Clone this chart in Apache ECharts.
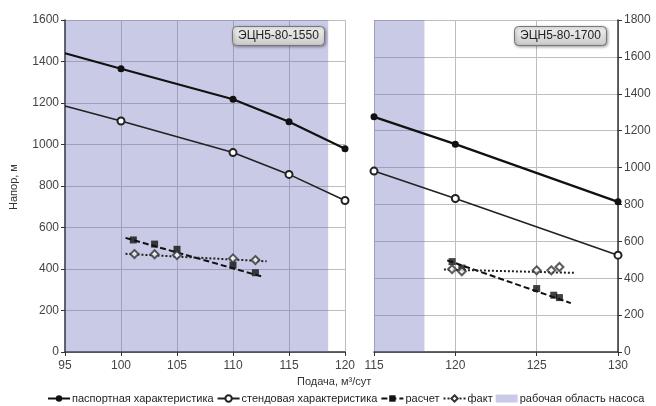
<!DOCTYPE html>
<html><head><meta charset="utf-8">
<script src="https://cdn.jsdelivr.net/npm/echarts@6/dist/echarts.min.js"></script>
<style>html,body{margin:0;padding:0;background:#fff}#c{width:656px;height:406px}</style>
</head><body><div id="c"></div>
<script>
// ---- data ----
var leftPassport = [[95,1440],[100,1365],[110,1218],[115,1110],[120,979]];
var leftStand    = [[95,1186],[100,1113],[110,961],[115,856],[120,730]];
var leftCalcPts  = [[101.1,540],[103,520],[105,495],[110,419],[112,382]];
var leftCalcTrend= [[100.4,550],[112.7,362]];
var leftFactPts  = [[101.2,472],[103,471],[105,467],[110,451],[112,443]];
var leftFactTrend= [[100.4,473],[113,437]];
var leftWork     = [95,118.5];

var rightPassport = [[115,1275],[120,1127],[130,814]];
var rightStand    = [[115,981],[120,832],[130,525]];
var rightCalcPts  = [[119.8,490],[120.4,455],[125,344],[126.05,308],[126.4,295]];
var rightCalcTrend= [[119.5,497],[127.1,265]];
var rightFactPts  = [[119.8,449],[120.4,438],[125,443],[125.9,443],[126.4,461]];
var rightFactTrend= [[119.3,447],[127.3,429]];
var rightWork     = [115,118.1];

var leftXTicks = {min:95,max:120,interval:5};
var rightXTicks = {min:115,max:130,interval:5};
var leftYTicks = {min:0,max:1600,interval:200};
var rightYTicks = {min:0,max:1800,interval:200};

var names = ['паспортная характеристика','стендовая характеристика','расчет','факт','рабочая область насоса'];
var titles = ['ЭЦН5-80-1550','ЭЦН5-80-1700'];

// ---- chart ----
var FONT = 'Liberation Sans, Arial, sans-serif';
var chart = echarts.init(document.getElementById('c'));
function plain(v){ return String(v); }
function firstNone(arr){ return arr.map(function(p,i){ return i===0 ? {value:p, symbol:'none'} : p; }); }
function mkX(g, t){ return {type:'value', gridIndex:g, min:t.min, max:t.max, interval:t.interval,
  axisLine:{show:true,onZero:false,lineStyle:{color:'#333',width:1.5}},
  axisTick:{show:true,length:4,lineStyle:{color:'#333'}},
  axisLabel:{color:'#444',fontSize:12,fontFamily:FONT,margin:8,formatter:plain},
  splitLine:{show:true,lineStyle:{color:'#bdbdbd',width:1}}}; }
function mkY(g, t, pos){ return {type:'value', gridIndex:g, min:t.min, max:t.max, interval:t.interval, position:pos,
  axisLine:{show:true,lineStyle:{color:'#333',width:1.5}},
  axisTick:{show:true,length:4,lineStyle:{color:'#333'}},
  axisLabel:{color:'#444',fontSize:12,fontFamily:FONT,margin:6,formatter:plain},
  splitLine:{show:true,lineStyle:{color:'#bdbdbd',width:1}}}; }
var shade = 'rgba(101,104,181,0.35)';
function series(g, pass, stand, calcPts, calcTrend, factPts, factTrend, work){
  return [
    {name:names[4], type:'line', xAxisIndex:g, yAxisIndex:g, data:[], symbol:'none', z:1,
     itemStyle:{color:'#c9cae5'}, lineStyle:{color:'#c9cae5'},
     markArea:{silent:true, itemStyle:{color:shade}, data:[[{xAxis:work[0]},{xAxis:work[1]}]]}},
    {name:names[0], type:'line', xAxisIndex:g, yAxisIndex:g, data: g===0?firstNone(pass):pass, symbol:'circle', symbolSize:7, z:5,
     itemStyle:{color:'#111'}, lineStyle:{color:'#111',width:2.2}},
    {name:names[1], type:'line', xAxisIndex:g, yAxisIndex:g, data: g===0?firstNone(stand):stand, symbol:'emptyCircle', symbolSize:7, z:5,
     itemStyle:{color:'#222',borderWidth:1.2}, lineStyle:{color:'#222',width:1.6}},
    {name:names[2], type:'line', xAxisIndex:g, yAxisIndex:g, data: calcTrend.map(function(p){return {value:p,symbol:'none'};}), symbol:'rect', symbolSize:7, z:5,
     itemStyle:{color:'#111'}, lineStyle:{color:'#111',width:2,type:[6,3]}},
    {name:names[2], type:'scatter', xAxisIndex:g, yAxisIndex:g, data: calcPts, symbol:'rect', symbolSize:7, z:6,
     itemStyle:{color:'#111'}},
    {name:names[3], type:'line', xAxisIndex:g, yAxisIndex:g, data: factTrend.map(function(p){return {value:p,symbol:'none'};}), symbol:'emptyDiamond', symbolSize:8, z:5,
     itemStyle:{color:'#333',borderWidth:1.3}, lineStyle:{color:'#222',width:2,type:[2,2]}},
    {name:names[3], type:'scatter', xAxisIndex:g, yAxisIndex:g, data: factPts, symbol:'emptyDiamond', symbolSize:8, z:6,
     itemStyle:{color:'#333',borderWidth:1.3}}
  ];
}
var boxBg = new echarts.graphic.LinearGradient(0,0,0,1,[{offset:0,color:'#f4f4f4'},{offset:1,color:'#c9c9c9'}]);
function mkTitle(text, left){ return {text:text, left:left, top:26, padding:[4,6],
  textStyle:{fontSize:12,fontWeight:'normal',color:'#222',fontFamily:FONT},
  backgroundColor:boxBg, borderColor:'#777', borderWidth:1, borderRadius:4,
  shadowBlur:3, shadowColor:'rgba(0,0,0,0.35)', shadowOffsetX:1, shadowOffsetY:1}; }

chart.setOption({
  animation:false,
  backgroundColor:'#fff',
  title:[mkTitle(titles[0],232), mkTitle(titles[1],514)],
  grid:[{left:65, top:20, width:280, bottom:54},{left:374, top:20, right:38, bottom:54}],
  xAxis:[mkX(0,leftXTicks), mkX(1,rightXTicks)],
  yAxis:[mkY(0,leftYTicks,'left'), mkY(1,rightYTicks,'right')],
  legend:{bottom:2, left:47, itemWidth:22, itemHeight:8, itemGap:3, padding:0,
    textStyle:{fontSize:11,color:'#222',fontFamily:FONT, padding:[0,0,0,-3]},
    data:[names[0],names[1],names[2],names[3],{name:names[4],icon:'rect'}]},
  graphic:[
    {type:'text', left:297, top:376, style:{text:'Подача, м³/сут', fontSize:11, fill:'#333', fontFamily:FONT}},
    {type:'text', x:8, y:210, rotation:Math.PI/2, style:{text:'Напор, м', fontSize:11, fill:'#333', fontFamily:FONT}}
  ],
  series: series(0,leftPassport,leftStand,leftCalcPts,leftCalcTrend,leftFactPts,leftFactTrend,leftWork)
    .concat(series(1,rightPassport,rightStand,rightCalcPts,rightCalcTrend,rightFactPts,rightFactTrend,rightWork))
});
</script></body></html>
